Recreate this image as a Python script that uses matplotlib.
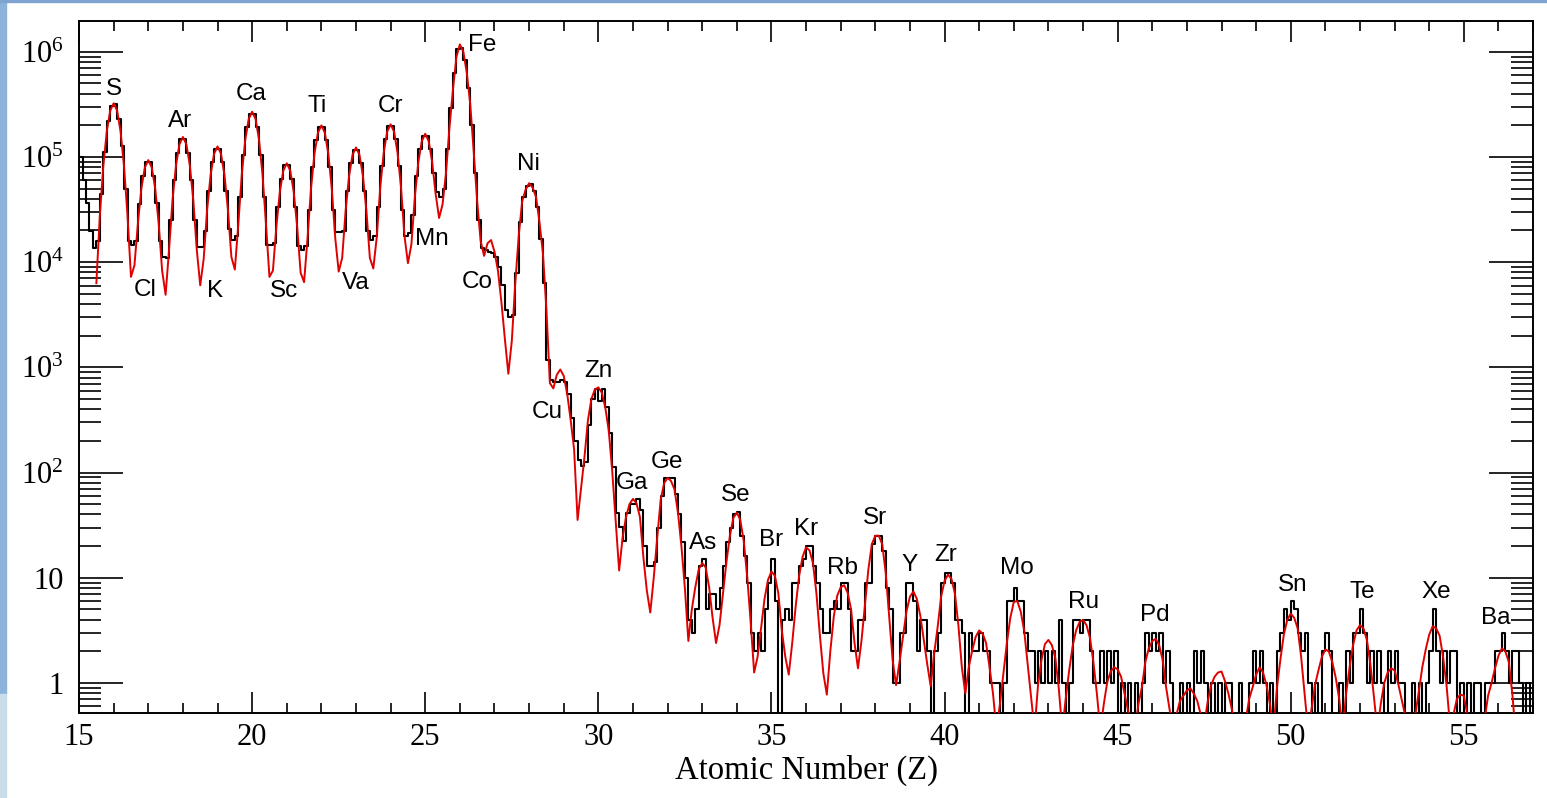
import numpy as np
import matplotlib.pyplot as plt
from matplotlib.patches import Rectangle
from matplotlib.ticker import FixedLocator, FixedFormatter, LogLocator, MultipleLocator, NullFormatter

plt.rcParams["font.family"] = ["Liberation Serif", "DejaVu Serif"]

# ------------------------------------------------------------------
# Data
# ------------------------------------------------------------------
# measured histogram, 0.1 wide bins from Z = 15.0 up to Z = 57.0
bin_start = 15.0
bin_width = 0.1

# log10(counts) for bins Z = 15.0 ... 30.9 (one row per unit of Z)
black_log_head = [
    5.00, 4.78, 4.56, 4.30, 4.13, 4.20, 4.65, 5.05, 5.34, 5.48,
    5.50, 5.36, 5.10, 4.70, 4.20, 4.16, 4.20, 4.55, 4.82, 4.95,
    4.95, 4.82, 4.56, 4.20, 4.05, 4.04, 4.40, 4.78, 5.04, 5.17,
    5.17, 5.04, 4.78, 4.40, 4.14, 4.14, 4.30, 4.68, 4.95, 5.08,
    5.08, 4.95, 4.68, 4.32, 4.21, 4.25, 4.62, 5.02, 5.28, 5.41,
    5.41, 5.28, 5.02, 4.62, 4.16, 4.16, 4.18, 4.52, 4.79, 4.92,
    4.92, 4.79, 4.52, 4.15, 4.12, 4.15, 4.50, 4.90, 5.16, 5.28,
    5.28, 5.16, 4.90, 4.50, 4.29, 4.29, 4.30, 4.68, 4.94, 5.07,
    5.07, 4.94, 4.68, 4.30, 4.21, 4.25, 4.52, 4.91, 5.17, 5.29,
    5.29, 5.17, 4.91, 4.50, 4.25, 4.28, 4.45, 4.82, 5.08, 5.20,
    5.20, 5.08, 4.85, 4.67, 4.62, 4.70, 5.08, 5.47, 5.80, 6.03,
    6.04, 5.92, 5.66, 5.30, 4.85, 4.40, 4.13, 4.12, 4.10, 4.09,
    4.05, 3.95, 3.78, 3.55, 3.48, 3.50, 3.90, 4.38, 4.62, 4.72,
    4.74, 4.68, 4.52, 4.22, 3.80, 3.07, 2.88, 2.86, 2.86, 2.88,
    2.86, 2.75, 2.52, 2.30, 2.12, 2.06, 2.10, 2.45, 2.70, 2.79,
    2.68, 2.79, 2.62, 2.38, 2.05, 1.62, 1.48, 1.35, 1.62, 1.70,
]

# raw counts for bins Z = 31.0 ... 56.9
black_counts_tail = [
    50, 56, 44, 20, 13, 13, 14, 30, 60, 88,
    89, 88, 62, 40, 22, 10, 4, 3, 5, 13,
    15, 5, 7, 7, 5, 8, 13, 22, 30, 40,
    42, 25, 16, 9, 3, 2, 3, 2, 5, 9,
    15, 6, 0, 4, 5, 4, 9, 9, 13, 15,
    20, 20, 13, 9, 5, 3, 3, 5, 6, 5,
    9, 9, 5, 2, 2, 4, 4, 9, 9, 21,
    25, 25, 18, 8, 5, 1, 1, 3, 3, 9,
    9, 6, 2, 4, 4, 2, 0, 2, 3, 9,
    11, 11, 9, 4, 4, 3, 0, 3, 2, 2,
    3, 2, 2, 1, 1, 1, 0, 1, 6, 6,
    8, 6, 6, 3, 2, 2, 1, 2, 1, 2,
    1, 2, 1, 4, 1, 0, 1, 4, 4, 3,
    4, 4, 2, 1, 1, 2, 1, 2, 1, 2,
    0, 1, 0, 1, 0, 1, 0, 1, 3, 2,
    3, 2, 3, 1, 2, 1, 0, 0, 1, 0,
    1, 0, 2, 1, 2, 1, 0, 1, 0, 1,
    0, 1, 1, 0, 0, 1, 0, 0, 1, 2,
    1, 2, 1, 0, 1, 0, 2, 3, 5, 4,
    6, 5, 3, 2, 3, 1, 0, 1, 0, 2,
    3, 2, 0, 0, 1, 0, 2, 1, 3, 3,
    5, 3, 1, 2, 1, 2, 1, 0, 2, 1,
    2, 1, 1, 0, 0, 1, 0, 1, 0, 1,
    2, 5, 2, 1, 2, 1, 2, 2, 0, 1,
    0, 1, 0, 1, 1, 0, 1, 1, 1, 2,
    2, 3, 2, 1, 2, 2, 1, 0, 1, 0,
]

# fitted curve: log10 value every 0.1 in Z, starting at Z = 15.5
fit_start = 15.5
fit_step = 0.1
fit_log = [
    3.80, 4.44, 4.91, 5.24, 5.44, 5.51, 5.44, 5.24, 4.91, 4.44,
    3.86, 3.97, 4.37, 4.70, 4.90, 4.97, 4.90, 4.70, 4.37, 3.92,
    3.69, 4.12, 4.59, 4.92, 5.12, 5.19, 5.12, 4.92, 4.59, 4.12,
    3.78, 4.03, 4.50, 4.83, 5.03, 5.10, 5.03, 4.83, 4.50, 4.05,
    3.93, 4.36, 4.83, 5.16, 5.36, 5.43, 5.36, 5.16, 4.83, 4.36,
    3.86, 3.92, 4.34, 4.67, 4.87, 4.94, 4.87, 4.67, 4.34, 3.90,
    3.81, 4.23, 4.70, 5.03, 5.23, 5.30, 5.23, 5.03, 4.70, 4.23,
    3.91, 4.04, 4.49, 4.82, 5.02, 5.09, 5.02, 4.82, 4.49, 4.04,
    3.94, 4.24, 4.71, 5.04, 5.24, 5.31, 5.24, 5.04, 4.71, 4.25,
    3.99, 4.17, 4.62, 4.95, 5.15, 5.22, 5.15, 4.95, 4.65, 4.42,
    4.55, 4.85, 5.28, 5.64, 5.95, 6.07, 6.00, 5.80, 5.50, 5.05,
    4.58, 4.20, 4.06, 4.18, 4.21, 4.10, 3.92, 3.62, 3.27, 2.94,
    3.25, 3.80, 4.25, 4.58, 4.69, 4.75, 4.71, 4.62, 4.38, 4.08,
    3.55, 2.85, 2.80, 2.93, 2.98, 2.92, 2.75, 2.50, 2.22, 1.55,
    1.85, 2.15, 2.50, 2.70, 2.79, 2.81, 2.76, 2.62, 2.40, 2.02,
    1.55, 1.07, 1.38, 1.58, 1.70, 1.75, 1.71, 1.58, 1.20, 0.88,
    0.67, 1.00, 1.38, 1.74, 1.90, 1.95, 1.92, 1.84, 1.62, 1.30,
    0.90, 0.40, 0.70, 0.91, 1.08, 1.14, 1.10, 0.91, 0.62, 0.38,
    0.55, 0.85, 1.15, 1.40, 1.57, 1.62, 1.55, 1.35, 1.01, 0.58,
    0.10, 0.25, 0.52, 0.80, 0.98, 1.06, 1.02, 0.85, 0.50, 0.25,
    0.08, 0.38, 0.73, 1.02, 1.20, 1.29, 1.26, 1.14, 0.85, 0.45,
    0.09, -0.11, 0.30, 0.63, 0.83, 0.91, 0.93, 0.86, 0.70, 0.38,
    0.14, 0.40, 0.74, 1.08, 1.32, 1.40, 1.40, 1.32, 1.05, 0.63,
    0.22, -0.02, 0.20, 0.44, 0.68, 0.82, 0.87, 0.80, 0.64, 0.41,
    0.18, -0.03, 0.28, 0.53, 0.82, 0.97, 1.03, 0.99, 0.85, 0.55,
    0.15, -0.10, 0.15, 0.31, 0.44, 0.50, 0.47, 0.38, 0.15, -0.10,
    -0.45, -0.20, 0.09, 0.38, 0.62, 0.77, 0.78, 0.68, 0.50, 0.18,
    -0.15, -0.45, -0.02, 0.22, 0.37, 0.41, 0.36, 0.24, -0.05, -0.45,
    -0.15, 0.12, 0.35, 0.50, 0.58, 0.60, 0.55, 0.43, 0.20, -0.10,
    -0.45, -0.20, 0.01, 0.11, 0.15, 0.13, 0.06, -0.10, -0.26, -0.45,
    -0.45, -0.20, -0.04, 0.20, 0.33, 0.40, 0.42, 0.36, 0.22, -0.04,
    -0.25, -0.45, -0.30, -0.17, -0.12, -0.07, -0.05, -0.10, -0.17, -0.30,
    -0.40, -0.18, -0.02, 0.06, 0.10, 0.11, 0.02, -0.10, -0.25, -0.45,
    -0.50, -0.50, -0.35, -0.15, -0.04, 0.08, 0.15, 0.10, -0.02, -0.20,
    -0.45, -0.05, 0.22, 0.46, 0.60, 0.66, 0.62, 0.52, 0.25, -0.10,
    -0.45, -0.25, -0.02, 0.12, 0.25, 0.32, 0.30, 0.20, 0.05, -0.15,
    -0.45, -0.10, 0.15, 0.36, 0.50, 0.55, 0.52, 0.41, 0.18, -0.12,
    -0.45, -0.20, 0.00, 0.10, 0.14, 0.12, 0.00, -0.15, -0.30, -0.50,
    -0.50, -0.30, -0.08, 0.15, 0.32, 0.46, 0.54, 0.52, 0.45, 0.25,
    -0.02, -0.40, -0.30, -0.15, -0.11, -0.12, -0.30, -0.50, -0.50, -0.50,
    -0.50, -0.35, -0.12, 0.00, 0.14, 0.26, 0.33, 0.30, 0.20, -0.10,
    -0.50,
]

# element labels: symbol, Z position of the label, log10 height of the label
elements = ["S", "Cl", "Ar", "K", "Ca", "Sc", "Ti", "Va", "Cr", "Mn", "Fe",
            "Co", "Ni", "Cu", "Zn", "Ga", "Ge", "As", "Se", "Br", "Kr", "Rb",
            "Sr", "Y", "Zr", "Mo", "Ru", "Pd", "Sn", "Te", "Xe", "Ba"]
label_z = [16.01, 16.91, 17.92, 18.93, 19.97, 20.92, 21.88, 23.00, 23.99, 25.20,
           26.65, 26.50, 27.98, 28.53, 30.00, 30.98, 31.99, 33.03, 33.96, 35.00,
           36.01, 37.05, 38.00, 38.99, 40.03, 42.08, 44.02, 46.07, 50.06, 52.08,
           54.19, 55.92]
label_log = [5.65, 3.74, 5.34, 3.73, 5.60, 3.73, 5.48, 3.80, 5.48, 4.22,
             6.06, 3.81, 4.93, 2.58, 2.97, 1.90, 2.10, 1.33, 1.79, 1.36,
             1.46, 1.09, 1.57, 1.12, 1.22, 1.09, 0.77, 0.65, 0.93, 0.87,
             0.87, 0.62]

y_ticks = [1, 10, 1e2, 1e3, 1e4, 1e5, 1e6]
y_tick_labels = ["1", "10", r"$\mathregular{10^{2}}$", r"$\mathregular{10^{3}}$",
                 r"$\mathregular{10^{4}}$", r"$\mathregular{10^{5}}$",
                 r"$\mathregular{10^{6}}$"]

# ------------------------------------------------------------------
# Figure
# ------------------------------------------------------------------
fig = plt.figure(figsize=(15.47, 7.98), dpi=100)

# slide background strips
fig.patches.append(Rectangle((0, 0.13), 0.004, 0.87, transform=fig.transFigure,
                             color="#8cb4da", zorder=0))
fig.patches.append(Rectangle((0, 0), 0.004, 0.13, transform=fig.transFigure,
                             color="#c9dcea", zorder=0))
fig.patches.append(Rectangle((0, 0.9975), 1, 0.0025, transform=fig.transFigure,
                             color="#7fa4cf", zorder=0))

ax = fig.add_axes([0.0511, 0.1065, 0.9399, 0.8672])

counts = np.concatenate([10 ** np.array(black_log_head),
                         np.array(black_counts_tail, dtype=float)])
edges = bin_start + bin_width * np.arange(len(counts) + 1)

fit_vals = 10 ** np.array(fit_log)
fit_z = fit_start + fit_step * np.arange(len(fit_vals))

ax.set_yscale("log", nonpositive="clip")

# --------------------------------------------------
# Histogram (black) and fit (red)
# --------------------------------------------------
ax.step(edges, np.append(counts, counts[-1]), where="post",
        color="black", linewidth=1.5, zorder=3)
ax.plot(fit_z, fit_vals, color="#e00000", linewidth=1.4, zorder=4)

for sym, z, lg in zip(elements, label_z, label_log):
    ax.text(z, 10 ** lg, sym, ha="center", va="center", fontsize=17.5,
            family=["Liberation Sans", "DejaVu Sans"], zorder=5)

# --------------------------------------------------
# Axes formatting
# --------------------------------------------------
ax.set_xlim(15, 57)
ax.set_ylim(0.519, 1.96e6)

ax.xaxis.set_major_locator(MultipleLocator(5))
ax.xaxis.set_minor_locator(MultipleLocator(1))
ax.yaxis.set_major_locator(FixedLocator(y_ticks))
ax.yaxis.set_major_formatter(FixedFormatter(y_tick_labels))
ax.yaxis.set_minor_locator(LogLocator(base=10, subs=np.arange(2, 10), numticks=30))
ax.yaxis.set_minor_formatter(NullFormatter())

ax.tick_params(axis="both", which="both", direction="in", top=True, right=True,
               width=1.2, labelsize=22, color="black")
ax.tick_params(axis="x", which="major", length=15, pad=7)
ax.tick_params(axis="x", which="minor", length=7)
ax.tick_params(axis="y", which="major", length=32, pad=11)
ax.tick_params(axis="y", which="minor", length=16)

for sp in ax.spines.values():
    sp.set_linewidth(1.4)

ax.set_xlabel("Atomic Number (Z)", fontsize=23.5, labelpad=2)

fig.savefig("out.png", dpi=100)
